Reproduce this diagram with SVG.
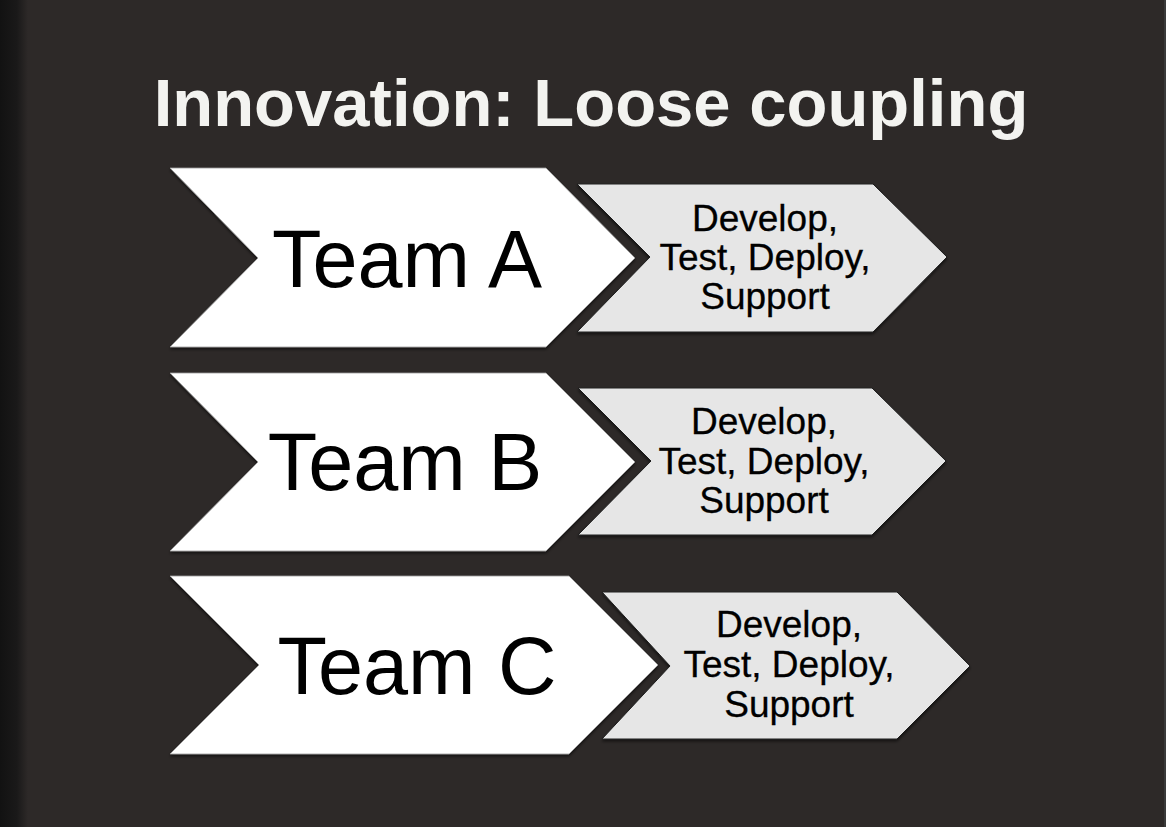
<svg xmlns="http://www.w3.org/2000/svg" width="1166" height="827" viewBox="0 0 1166 827">
  <defs>
    <linearGradient id="edge" x1="0" y1="0" x2="1" y2="0">
      <stop offset="0" stop-color="#121212"/>
      <stop offset="0.6" stop-color="#1a1919"/>
      <stop offset="1" stop-color="#2d2928"/>
    </linearGradient>
    <filter id="shade" x="-5%" y="-5%" width="110%" height="115%">
      <feDropShadow dx="0" dy="2" stdDeviation="1.5" flood-color="#000" flood-opacity="0.55"/>
    </filter>
    <style>
      .title { font-family: "Liberation Sans", Arial, sans-serif; font-weight: bold; font-size: 67px; fill: #f3f3f0; text-anchor: middle; }
      .team { fill: #ffffff; stroke: #9a9a9a; stroke-width: 0.8; filter: url(#shade); }
      .task { fill: #e6e6e6; stroke: #1e1e1e; stroke-width: 1; filter: url(#shade); }
      .team-label { font-family: "Liberation Sans", Arial, sans-serif; font-size: 81px; fill: #000; text-anchor: middle; }
      .task-label { font-family: "Liberation Sans", Arial, sans-serif; font-size: 37px; fill: #000; stroke: #000; stroke-width: 0.3; text-anchor: middle; }
    </style>
  </defs>

  <!-- backdrop -->
  <rect x="0" y="0" width="1166" height="827" fill="#2d2928"/>
  <rect x="0" y="0" width="28" height="827" fill="url(#edge)"/>
  <rect x="1164" y="0" width="2" height="827" fill="#3a3a3a"/>

  <text class="title" x="591" y="126">Innovation: Loose coupling</text>

  <!-- row A -->
  <g id="team-a">
    <polygon class="team" points="170,168 546,168 635,258 546,347 170,347 258,258"/>
    <text class="team-label" x="407" y="287">Team A</text>
  </g>
  <g id="task-a">
    <polygon class="task" points="577,184 873,184 947,257 873,332 577,332 650,257"/>
    <text class="task-label" x="765" y="231">Develop,</text>
    <text class="task-label" x="765" y="270">Test, Deploy,</text>
    <text class="task-label" x="765" y="309">Support</text>
  </g>

  <!-- row B -->
  <g id="team-b">
    <polygon class="team" points="170,373 546,373 635,462 546,551 170,551 258,462"/>
    <text class="team-label" x="405" y="490">Team B</text>
  </g>
  <g id="task-b">
    <polygon class="task" points="578,388 872,388 946,461 872,535 578,535 651,461"/>
    <text class="task-label" x="764" y="434">Develop,</text>
    <text class="task-label" x="764" y="474">Test, Deploy,</text>
    <text class="task-label" x="764" y="513">Support</text>
  </g>

  <!-- row C -->
  <g id="team-c">
    <polygon class="team" points="170,576 569,576 658,665 569,754 170,754 259,665"/>
    <text class="team-label" x="417" y="694">Team C</text>
  </g>
  <g id="task-c">
    <polygon class="task" points="602,592 897,592 970,666 897,739 602,739 670,666"/>
    <text class="task-label" x="789" y="637">Develop,</text>
    <text class="task-label" x="789" y="677">Test, Deploy,</text>
    <text class="task-label" x="789" y="717">Support</text>
  </g>

  <g id="connectors"></g>
</svg>
